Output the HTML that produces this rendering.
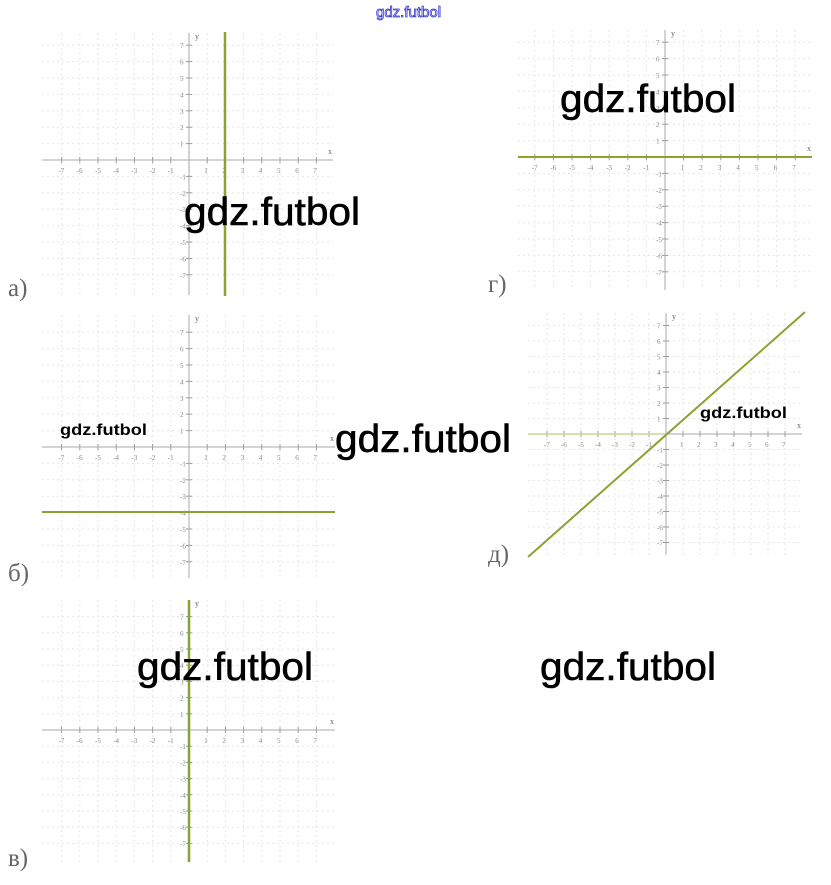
<!DOCTYPE html>
<html><head><meta charset="utf-8"><style>
body{margin:0;background:#fff;width:831px;height:885px;overflow:hidden}
svg{display:block}
.wm{font-family:"Liberation Sans",sans-serif;fill:#000}
</style></head><body>
<svg id="s" width="831" height="885" xmlns="http://www.w3.org/2000/svg">
<text x="376" y="17" font-family="Liberation Sans,sans-serif" font-size="15" fill="#fff" stroke="#3333cc" stroke-width="0.8">gdz.futbol</text>
</svg>
<script>
const s=document.getElementById('s');const NS='http://www.w3.org/2000/svg';
function el(t,a,txt){const e=document.createElementNS(NS,t);for(const k in a)e.setAttribute(k,a[k]);if(txt!=null)e.textContent=txt;s.appendChild(e);return e;}
function graph(ox,oy,ux,uy,x0,x1,y0,y1){
 for(let i=-7;i<=7;i++){if(!i)continue;
  el('line',{x1:ox+i*ux,y1:y0,x2:ox+i*ux,y2:y1,stroke:'#e6e6e6','stroke-width':1,'stroke-dasharray':'2,3'});
  el('line',{x1:x0,y1:oy-i*uy,x2:x1,y2:oy-i*uy,stroke:'#e6e6e6','stroke-width':1,'stroke-dasharray':'2,3'});
  el('line',{x1:ox+i*ux,y1:oy-3,x2:ox+i*ux,y2:oy+3,stroke:'#999'});
  el('line',{x1:ox-3,y1:oy-i*uy,x2:ox+3,y2:oy-i*uy,stroke:'#999'});
  el('text',{x:ox+i*ux-3,y:oy+13,'font-size':7,fill:'#888','font-family':'Liberation Serif'},i);
  el('text',{x:ox-9,y:oy-i*uy+3,'font-size':7,fill:'#888','font-family':'Liberation Serif'},i);
 }
 el('line',{x1:x0,y1:oy,x2:x1,y2:oy,stroke:'#aaa'});
 el('line',{x1:ox,y1:y0,x2:ox,y2:y1,stroke:'#aaa'});
 el('text',{x:x1-5,y:oy-6,'font-size':8,fill:'#666','font-family':'Liberation Serif'},'x');
 el('text',{x:ox+6,y:y0+6,'font-size':8,fill:'#666','font-family':'Liberation Serif'},'y');
}
function lbl(x,y,t){el('text',{x:x,y:y,'font-size':25,fill:'#666','font-family':'Liberation Serif'},t);}
const G='#8aa232';
graph(189,160,18.2,16.4,42,333,33,295);
el('line',{x1:225,y1:32,x2:225,y2:296,stroke:G,'stroke-width':2.5});lbl(8,296,'а)');
graph(189,447,18.2,16.4,42,335,315,578);
el('line',{x1:42,y1:512,x2:335,y2:512,stroke:G,'stroke-width':2});lbl(8,581,'б)');
graph(189,730,18.2,16.2,42,335,600,862);
el('line',{x1:189,y1:600,x2:189,y2:862,stroke:G,'stroke-width':2.5});lbl(8,866,'в)');
graph(665,157,18.6,16.4,518,812,30,290);
el('line',{x1:518,y1:157,x2:812,y2:157,stroke:G,'stroke-width':2});lbl(488,292,'г)');
graph(666,434,17,15.5,528,802,313,555);
el('line',{x1:528,y1:434,x2:666,y2:434,stroke:'#c8d59a','stroke-width':1.5});
el('line',{x1:528,y1:557,x2:805,y2:312,stroke:G,'stroke-width':2});lbl(488,562,'д)');
function wm(x,y,sz){el('text',{x:x,y:y,'font-size':sz,class:'wm',textLength:176,lengthAdjust:'spacingAndGlyphs',stroke:'#000','stroke-width':0.6},'gdz.futbol');}
wm(184,225,39);wm(560,112,39);wm(335,452,39);wm(137,680,39);wm(540,680,39);
el('text',{x:60,y:435,'font-size':16,'font-weight':'bold','font-family':'Liberation Sans',fill:'#000',textLength:87,lengthAdjust:'spacingAndGlyphs'},'gdz.futbol');
el('text',{x:700,y:418,'font-size':16,'font-weight':'bold','font-family':'Liberation Sans',fill:'#000',textLength:87,lengthAdjust:'spacingAndGlyphs'},'gdz.futbol');
</script>
</body></html>
